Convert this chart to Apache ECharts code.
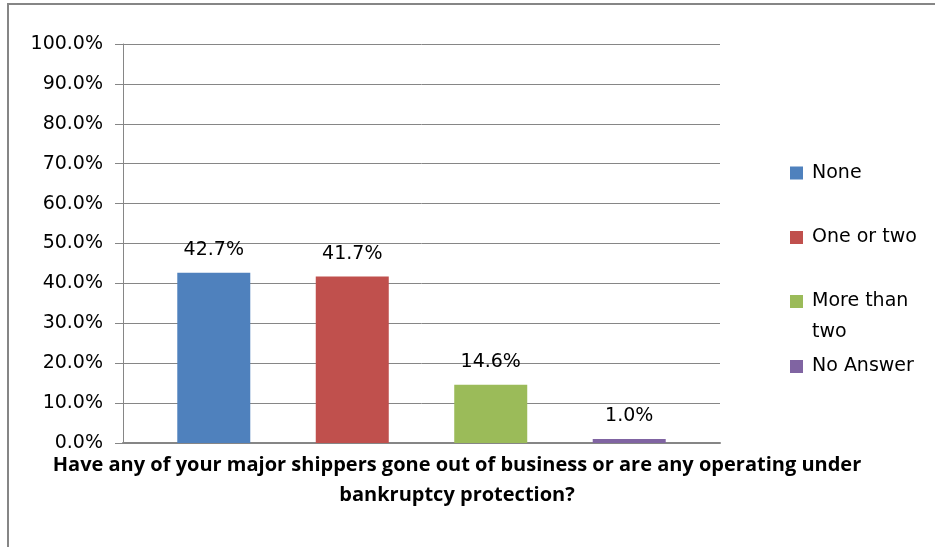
<!DOCTYPE html>
<html>
<head>
<meta charset="utf-8">
<script src="https://cdn.jsdelivr.net/npm/echarts@6/dist/echarts.min.js"></script>
<style>
  html, body { margin: 0; padding: 0; background: #fff; }
  #chart { width: 935px; height: 547px; }
</style>
</head>
<body>
<div id="chart"></div>
<script>
// Survey question shown under the plot
const question = 'Have any of your major shippers gone out of business or are any operating under\nbankruptcy protection?';
// Answer options (one bar each) and their shares in percent
const answers = ['None', 'One or two', 'More than two', 'No Answer'];
const shares = [42.7, 41.7, 14.6, 1.0];
const colors = ['#4F81BD', '#C0504D', '#9BBB59', '#8064A2'];
// Value axis range and step
const yMin = 0, yMax = 100, yStep = 10;

const baseFont = 'DejaVu Sans';
const gridColor = '#868686';

const series = answers.map((name, i) => ({
  name: name,
  type: 'bar',
  data: [shares[i]],
  itemStyle: { color: colors[i] },
  barWidth: 73,
  barGap: '89.7%',
  label: {
    show: true,
    position: 'top',
    distance: 13,
    fontFamily: baseFont,
    fontSize: 19,
    color: '#000',
    formatter: p => p.value.toFixed(1) + '%'
  }
}));

// One legend block per answer so the wrapped entry keeps its marker on its first line
const legendTops = [157.5, 222, 255, 351];
const legendText = {
  'More than two': '\nMore than\ntwo'
};
const legends = answers.map((name, i) => ({
  data: [name],
  orient: 'vertical',
  left: 790,
  top: legendTops[i],
  padding: 0,
  icon: 'rect',
  itemWidth: 13,
  itemHeight: 13,
  selectedMode: false,
  formatter: n => legendText[n] || n,
  textStyle: {
    fontFamily: baseFont,
    fontSize: 19,
    lineHeight: 31,
    color: '#000',
    padding: [0, 0, 0, 4]
  }
}));

const chart = echarts.init(document.getElementById('chart'));
chart.setOption({
  animation: false,
  backgroundColor: '#fff',
  grid: { left: 123, right: 215, top: 44, bottom: 104, containLabel: false },
  title: {
    text: question,
    left: 457,
    top: 450,
    padding: 0,
    textAlign: 'center',
    textStyle: {
      fontFamily: 'Open Sans',
      fontWeight: 'bold',
      fontSize: 20,
      lineHeight: 30,
      color: '#000'
    }
  },
  legend: legends,
  xAxis: {
    type: 'category',
    data: [''],
    axisLine: { show: true, lineStyle: { color: gridColor, width: 2 } },
    axisTick: { show: false },
    axisLabel: { show: false }
  },
  yAxis: {
    type: 'value',
    min: yMin,
    max: yMax,
    interval: yStep,
    axisLine: { show: true, lineStyle: { color: gridColor, width: 1 } },
    axisTick: { show: true, length: 8, lineStyle: { color: gridColor } },
    splitLine: { show: true, lineStyle: { color: gridColor, width: 1 } },
    axisLabel: {
      margin: 20,
      fontFamily: baseFont,
      fontSize: 19,
      color: '#000',
      formatter: v => v.toFixed(1) + '%'
    }
  },
  series: series,
  graphic: [{
    type: 'rect',
    silent: true,
    shape: { x: 8, y: 4, width: 1000, height: 1000 },
    style: { fill: 'none', stroke: gridColor, lineWidth: 2 }
  }]
});
</script>
</body>
</html>
